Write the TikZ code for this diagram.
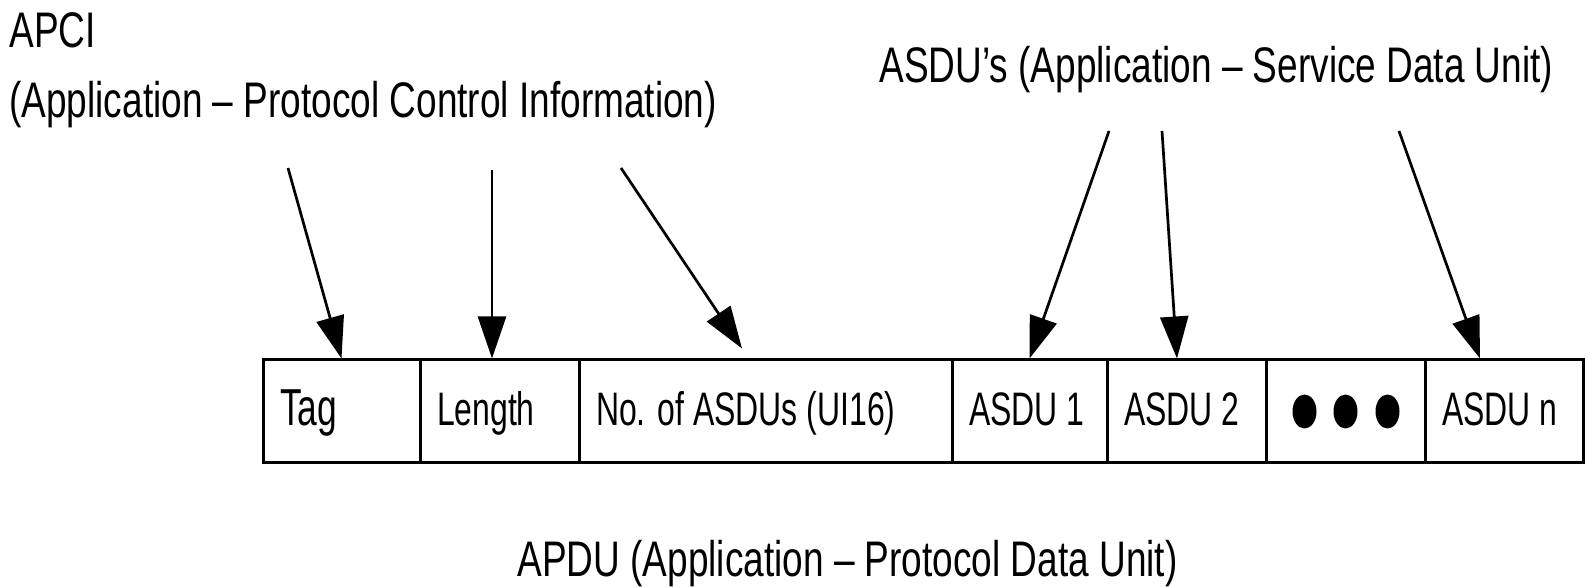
\documentclass[tikz,border=0pt]{standalone}
\usepackage{fontspec}
\setmainfont{Liberation Sans}[FakeStretch=0.74]
\newfontfamily\celda{Liberation Sans}[FakeStretch=0.68]
\usetikzlibrary{arrows.meta}
\newcommand{\celdatxt}[2]{\makebox[#1][l]{#2}}
\begin{document}
\begin{tikzpicture}[x=0.5pt,y=-0.5pt,
        caja/.style={draw,line width=1.5pt,minimum height=51.5pt,inner xsep=8.5pt,inner ysep=0pt,
            text height=17pt,text depth=2.5pt,font=\celda\fontsize{23.5}{28}\selectfont},
        flecha/.style={line width=1.35pt,-{Triangle[length=21pt,width=14pt]}},
        titulo/.style={anchor=base west,inner sep=0pt,font=\fontsize{25}{30}\selectfont}]
        \useasboundingbox (0,0) rectangle (1585,587);
        % textos
        \node[titulo] (apci) at (9,48) {APCI};
        \node[titulo] (apcitxt) at (9,118) {(Application -- Protocol Control Information)};
        \node[titulo] (asdus) at (879,83) {ASDU's (Application -- Service Data Unit)};
        \node[titulo] (apdu) at (517,576) {APDU (Application -- Protocol Data Unit)};
        % celdas de la APDU
        \node[caja,font=\celda\fontsize{26}{30}\selectfont] (tag) at (341.5,411.5) {\celdatxt{61.5pt}{Tag}};
        \node[caja] (len) at (499.5,411.5) {\celdatxt{62.5pt}{Length}};
        \node[caja] (num) at (765.5,411.5) {\celdatxt{169.5pt}{No. of ASDUs (UI16)}};
        \node[caja] (asdu1) at (1029.5,411.5) {\celdatxt{60.5pt}{ASDU 1}};
        \node[caja] (asdu2) at (1186.5,411.5) {\celdatxt{62.5pt}{ASDU 2}};
        \node[caja] (puntos) at (1345.5,411.5) {\celdatxt{62.5pt}{}};
        \node[caja] (asdun) at (1504,411.5) {\celdatxt{62pt}{ASDU n}};
        % puntos suspensivos
        \foreach \x in {-41,0,42}
        \fill ([xshift=\x*0.5pt]puntos.center) ellipse [x radius=12, y radius=17];
        % flechas de la APCI
        \coordinate (t1) at (288,168);
        \coordinate (t2) at (492,170);
        \coordinate (t3) at (621,168);
        \draw[flecha] (t1) -- (tag.north);
        \draw[flecha] (t2) -- ([xshift=-3.75pt]len.north);
        \draw[flecha] (t3) -- ([xshift=-11.75pt,yshift=5pt]num.north);
        % flechas de las ASDU
        \coordinate (s1) at (1109,131);
        \coordinate (s2) at (1162,131);
        \coordinate (s3) at (1399,131);
        \draw[flecha] (s1) -- (asdu1.north);
        \draw[flecha] (s2) -- ([xshift=-4.75pt]asdu2.north);
        \draw[flecha] (s3) -- ([xshift=-12pt]asdun.north);
\end{tikzpicture}
\end{document}
